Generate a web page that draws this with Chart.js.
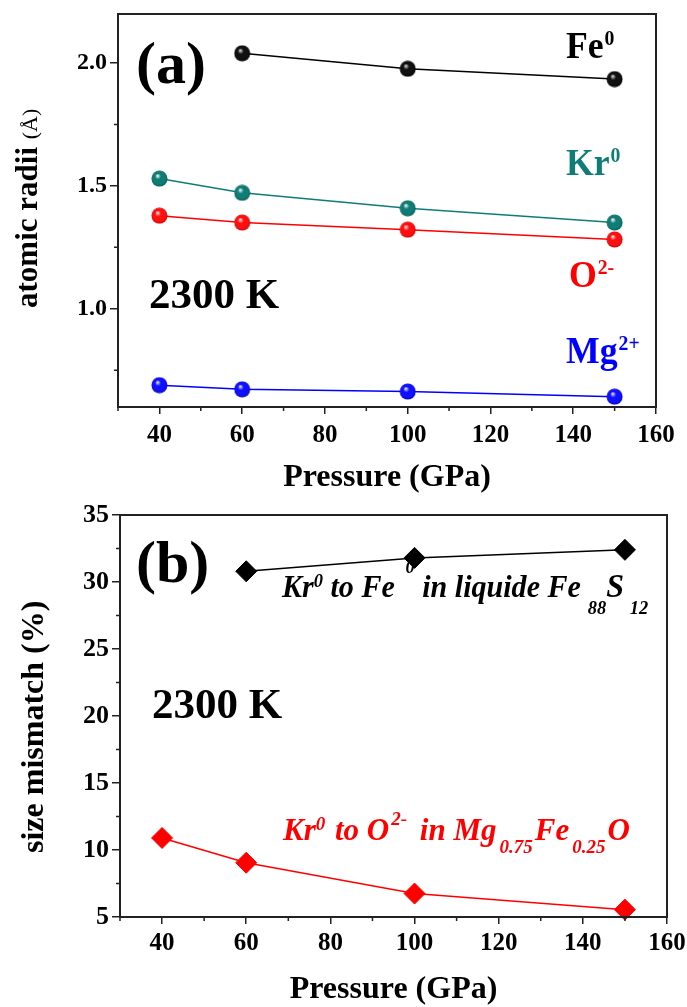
<!DOCTYPE html>
<html>
<head>
<meta charset="utf-8">
<script src="https://cdn.jsdelivr.net/npm/chart.js@4.4.0/dist/chart.umd.min.js"></script>
<style>
  body { margin: 0; background: #fff; width: 687px; height: 1007px; overflow: hidden; }
  canvas { position: absolute; left: 0; }
  #chartA { top: 0; }
  #chartB { top: 500px; }
</style>
</head>
<body>
<canvas id="chartA" width="687" height="500"></canvas>
<canvas id="chartB" width="687" height="507"></canvas>
<script>
// panel (a): atomic radii vs pressure
const pressureFe = [60, 100, 150];
const pressureAll = [40, 60, 100, 150];
const radiiFe = [2.04, 1.977, 1.935];
const radiiKr = [1.53, 1.472, 1.409, 1.351];
const radiiO = [1.379, 1.351, 1.322, 1.282];
const radiiMg = [0.689, 0.672, 0.663, 0.642];

// panel (b): size mismatch vs pressure
const mismatchFe = [30.8, 31.8, 32.4];
const mismatchO = [10.9, 9.05, 6.75, 5.55];

// minor tick values
const xMinor = [30, 50, 70, 90, 110, 130, 150];
const yMinorA = [0.75, 1.25, 1.75];
const yMinorB = [7.5, 12.5, 17.5, 22.5, 27.5, 32.5];

const SERIF = '"Liberation Serif", "Times New Roman", serif';
const TEAL = '#0f7d76';

function zip(xs, ys) {
  return xs.map((x, i) => ({x: x, y: ys[i]}));
}

function sphere(color, dark, light) {
  const c = document.createElement('canvas');
  c.width = 17; c.height = 17;
  const g = c.getContext('2d');
  const grad = g.createRadialGradient(6.5, 5.5, 0.5, 8.5, 8.5, 8.5);
  grad.addColorStop(0, light || '#ffffff');
  grad.addColorStop(0.3, color);
  grad.addColorStop(0.75, color);
  grad.addColorStop(1, dark);
  g.fillStyle = grad;
  g.beginPath();
  g.arc(8.5, 8.5, 8, 0, Math.PI * 2);
  g.fill();
  return c;
}

function drawRich(ctx, x, y, parts, style, size, color, sx) {
  ctx.save();
  ctx.translate(x, y);
  ctx.scale(sx || 1, 1);
  ctx.fillStyle = color;
  ctx.textBaseline = 'alphabetic';
  ctx.textAlign = 'left';
  let cx = 0;
  parts.forEach(p => {
    ctx.font = style + ' ' + (p.size || size) + 'px ' + SERIF;
    cx += p.dx || 0;
    ctx.fillText(p.t, cx, p.dy || 0);
    cx += ctx.measureText(p.t).width;
  });
  ctx.restore();
}

const framePlugin = {
  id: 'frame',
  afterDraw(chart, args, opts) {
    const ctx = chart.ctx;
    const a = chart.chartArea;
    const x = chart.scales.x, y = chart.scales.y;
    ctx.save();
    ctx.strokeStyle = '#222';
    ctx.lineWidth = 2;
    ctx.strokeRect(a.left, a.top, a.right - a.left, a.bottom - a.top);
    ctx.lineWidth = 1.5;
    ctx.beginPath();
    opts.xMinor.forEach(v => {
      const px = x.getPixelForValue(v);
      ctx.moveTo(px, a.bottom);
      ctx.lineTo(px, a.bottom + 4);
    });
    opts.yMinor.forEach(v => {
      const py = y.getPixelForValue(v);
      ctx.moveTo(a.left, py);
      ctx.lineTo(a.left - 4, py);
    });
    ctx.stroke();
    ctx.restore();
  }
};

function yTitle(ctx, x, y, parts) {
  ctx.save();
  ctx.translate(x, y);
  ctx.rotate(-Math.PI / 2);
  ctx.fillStyle = '#000';
  ctx.textBaseline = 'alphabetic';
  let cx = 0;
  parts.forEach(p => {
    ctx.font = p.font;
    cx += p.dx || 0;
    ctx.fillText(p.t, cx, 0);
    cx += ctx.measureText(p.t).width;
  });
  ctx.restore();
}

const textsA = {
  id: 'textsA',
  afterDraw(chart) {
    const ctx = chart.ctx;
    drawRich(ctx, 136, 83, [{t: '(a)'}], 'bold', 60, '#000');
    drawRich(ctx, 149, 308, [{t: '2300 K'}], 'bold', 43, '#000');
    drawRich(ctx, 566, 58, [{t: 'Fe'}, {t: '0', size: 21, dy: -13, dx: 1}], 'bold', 38, '#000', 0.94);
    drawRich(ctx, 566, 175, [{t: 'Kr'}, {t: '0', size: 21, dy: -13, dx: 1}], 'bold', 38, TEAL, 0.94);
    drawRich(ctx, 569, 287, [{t: 'O'}, {t: '2-', size: 21, dy: -13, dx: 1}], 'bold', 38, '#ff0000', 0.94);
    drawRich(ctx, 566, 363, [{t: 'Mg'}, {t: '2+', size: 21, dy: -13, dx: 1}], 'bold', 38, '#0000ff', 0.94);
    yTitle(ctx, 37, 308, [
      {t: 'atomic radii ', font: 'bold 31px ' + SERIF},
      {t: '(\u00C5)', font: '22px ' + SERIF}
    ]);
  }
};

const textsB = {
  id: 'textsB',
  afterDraw(chart) {
    const ctx = chart.ctx;
    drawRich(ctx, 136, 82, [{t: '(b)'}], 'bold', 60, '#000');
    drawRich(ctx, 152, 218, [{t: '2300 K'}], 'bold', 43, '#000');
    drawRich(ctx, 282, 97, [
      {t: 'Kr'}, {t: '0', size: 19, dy: -10},
      {t: ' to Fe'}, {t: '0', size: 19, dy: -24, dx: 11},
      {t: ' in liquide Fe'}, {t: '88', size: 19, dy: 17, dx: 7},
      {t: 'S', size: 33}, {t: '12', size: 19, dy: 17, dx: 6}
    ], 'italic bold', 31, '#000', 0.97);
    drawRich(ctx, 283, 340, [
      {t: 'Kr'}, {t: '0', size: 19, dy: -10},
      {t: ' to O', dx: 2}, {t: '2-', size: 19, dy: -15, dx: 2},
      {t: ' in Mg', dx: 5}, {t: '0.75', size: 19, dy: 13, dx: 3},
      {t: 'Fe', dx: 2}, {t: '0.25', size: 19, dy: 13, dx: 3},
      {t: 'O', dx: 2}
    ], 'italic bold', 31, '#ff0000');
    yTitle(ctx, 43, 353, [
      {t: 'size mismatch (%)', font: 'bold 32px ' + SERIF}
    ]);
  }
};

function lineSet(xs, ys, color, point) {
  return {
    data: zip(xs, ys),
    borderColor: color,
    backgroundColor: color,
    borderWidth: 1.5,
    pointStyle: point,
    pointRadius: 10,
    clip: false
  };
}

function diamondSet(xs, ys, color) {
  return {
    data: zip(xs, ys),
    borderColor: color,
    backgroundColor: color,
    borderWidth: 1.5,
    pointStyle: 'rectRot',
    pointRadius: 10.5,
    pointBorderWidth: 1,
    clip: false
  };
}

function scales(o) {
  const tickFont = {family: SERIF, weight: 'bold', size: 25};
  return {
    x: {
      type: 'linear', min: 30, max: 160,
      ticks: {stepSize: 20, includeBounds: false, font: tickFont, color: '#000', padding: o.xPad},
      grid: {drawOnChartArea: false, tickLength: 7, color: '#222', lineWidth: 1.5},
      border: {color: '#222', width: 2},
      title: {display: true, text: 'Pressure (GPa)', color: '#000',
        font: {family: SERIF, weight: 'bold', size: 32, lineHeight: 1.1},
        padding: {top: 0, bottom: o.titlePad}},
      afterFit(s) { s.height = o.xHeight; s.paddingLeft = 0; s.paddingRight = 0; }
    },
    y: {
      min: o.yMin, max: o.yMax,
      ticks: {stepSize: o.yStep, includeBounds: false, font: {family: SERIF, weight: 'bold', size: o.ySize},
        color: '#000', padding: o.yPad, callback: o.yFmt},
      grid: {drawOnChartArea: false, tickLength: 8, color: '#222', lineWidth: 1.5},
      border: {color: '#222', width: 2},
      afterFit(s) { s.width = o.yWidth; s.paddingTop = 0; s.paddingBottom = 0; }
    }
  };
}

new Chart(document.getElementById('chartA'), {
  type: 'line',
  data: {
    datasets: [
      lineSet(pressureFe, radiiFe, '#000', sphere('#111', '#000', '#d0d0d0')),
      lineSet(pressureAll, radiiKr, TEAL, sphere(TEAL, '#075550', '#e8f4f3')),
      lineSet(pressureAll, radiiO, '#ff0000', sphere('#ff1010', '#c00000', '#ffe0e0')),
      lineSet(pressureAll, radiiMg, '#0000ff', sphere('#1010ff', '#0000b0', '#e0e0ff'))
    ]
  },
  options: {
    responsive: false,
    animation: false,
    devicePixelRatio: 1,
    layout: {padding: {top: 14, right: 31, left: 0, bottom: 0}},
    plugins: {
      legend: {display: false},
      tooltip: {enabled: false},
      frame: {xMinor: xMinor, yMinor: yMinorA}
    },
    scales: scales({xPad: 7, titlePad: 5, xHeight: 93, yMin: 0.6, yMax: 2.2, yStep: 0.5,
      ySize: 24, yPad: 3, yWidth: 118, yFmt: v => v.toFixed(1)})
  },
  plugins: [framePlugin, textsA]
});

new Chart(document.getElementById('chartB'), {
  type: 'line',
  data: {
    datasets: [
      diamondSet(pressureFe, mismatchFe, '#000'),
      diamondSet(pressureAll, mismatchO, '#ff0000')
    ]
  },
  options: {
    responsive: false,
    animation: false,
    devicePixelRatio: 1,
    layout: {padding: {top: 15, right: 20, left: 0, bottom: 0}},
    plugins: {
      legend: {display: false},
      tooltip: {enabled: false},
      frame: {xMinor: xMinor, yMinor: yMinorB}
    },
    scales: scales({xPad: 5, titlePad: 0, xHeight: 90, yMin: 5, yMax: 35, yStep: 5,
      ySize: 26, yPad: 3, yWidth: 120, yFmt: v => String(v)})
  },
  plugins: [framePlugin, textsB]
});
</script>
</body>
</html>
